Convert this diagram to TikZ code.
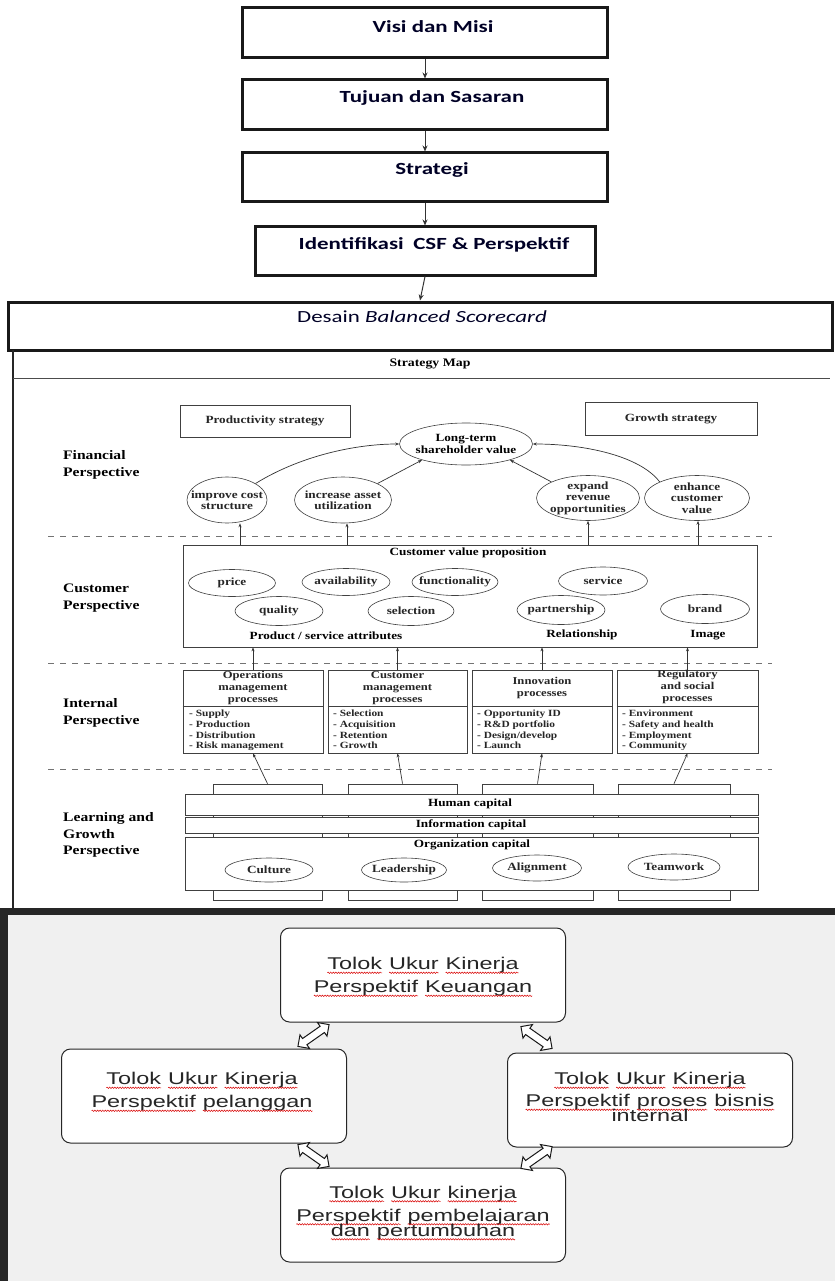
\documentclass[tikz,border=0pt]{standalone}
\usepackage{fontspec}
\setmainfont{Liberation Serif}
\newfontfamily\calbf[FakeStretch=1.35]{Carlito}
\newfontfamily\smf[FakeStretch=1.2]{Liberation Serif}
\newfontfamily\bsf[FakeStretch=1.38]{Liberation Sans}
\usetikzlibrary{calc,shapes.geometric,shapes.arrows,arrows.meta,decorations.pathmorphing}
\newcommand\sq[1]{\tikz[baseline=(w.base)]{\node[inner sep=0pt,outer sep=0pt] (w) {#1};\draw[red!85!black,line width=0.5pt,decorate,decoration={snake,amplitude=0.7pt,segment length=2.6pt}] ([yshift=-3.2pt]w.base west) -- ([yshift=-3.2pt]w.base east);}}
\begin{document}
\begin{tikzpicture}[x=1pt,y=-1pt,
  topbox/.style={draw=black!90,line width=3pt,minimum width=365pt},
  toptxt/.style={font=\calbf\bfseries\fontsize{17}{19}\selectfont,text=black!85!blue},
  topArr/.style={-{Stealth[length=6pt,width=5pt]},line width=1pt,black!80},
  sarr/.style={-{Stealth[length=4pt,width=3pt]},line width=0.7pt,black!80},
  sm/.style={font=\smf\bfseries\fontsize{11}{11.5}\selectfont,align=center,inner sep=0pt,text=black!85},
  smb/.style={font=\smf\bfseries\fontsize{11}{11.5}\selectfont,align=center,inner sep=0pt},
  lab/.style={font=\smf\bfseries\fontsize{13}{16.5}\selectfont,align=left,anchor=west,inner sep=0pt},
  item/.style={font=\smf\bfseries\fontsize{9.5}{10.7}\selectfont,align=left,anchor=north west,inner sep=0pt,text=black!85},
  ell/.style={ellipse,draw=black!75,line width=0.6pt,inner sep=0pt},
  sbox/.style={draw=black!75,line width=0.7pt,inner sep=0pt},
  dline/.style={draw=black!55,line width=0.8pt,dash pattern=on 6pt off 6pt},
  rbox/.style={draw=black!85,line width=1pt,fill=white,rounded corners=9pt,minimum width=285pt,minimum height=94pt},
  btxt/.style={font=\bsf\fontsize{17}{19}\selectfont,align=center,text=black!85,inner sep=0pt},
  darr/.style={double arrow,draw=black!90,fill=white,line width=1pt,minimum height=38pt,inner sep=3.3pt,double arrow head extend=4.5pt}
]
\useasboundingbox (0,0) rectangle (835,1281);
\fill[white] (0,0) rectangle (835,1281);

% ---------------- top flow ----------------
\node[topbox,minimum height=50pt] (b1) at (425,33) {};
\node[topbox,minimum height=50pt] (b2) at (425,105) {};
\node[topbox,minimum height=49pt] (b3) at (425,177.5) {};
\node[topbox,minimum width=340pt,minimum height=48pt] (b4) at (425,251) {};
\node[toptxt] (t1) at (433,27) {Visi dan Misi};
\node[toptxt] (t2) at (432,98) {Tujuan dan Sasaran};
\node[toptxt] (t3) at (432,170) {Strategi};
\node[toptxt] (t4) at (434,245) {Identifikasi\hspace{0.25em} CSF \& Perspektif};
\node[draw=black!90,line width=3pt,minimum width=824pt,minimum height=48pt] (ds) at (420,326) {};
\node[font=\calbf\fontsize{17}{19}\selectfont,text=black!85!blue] (dst) at (422,317) {Desain \textit{Balanced Scorecard}};
\draw[topArr] (b1.south) -- (b2.north);
\draw[topArr] (b2.south) -- (b3.north);
\draw[topArr] (b3.south) -- (b4.north);
\draw[topArr] (b4.south) -- (ds.north);

% ---------------- strategy map ----------------
\draw[black!85,line width=1.4pt] (13,350) -- (13,908);
\draw[black!70,line width=0.8pt] (13,378) -- (830,378);
\node[smb,font=\smf\bfseries\fontsize{11.5}{12}\selectfont] (smt) at (430,364) {Strategy Map};

% financial
\node[sbox,minimum width=170pt,minimum height=32pt] (prod) at (265,421) {};
\node[sm] (prodt) at (265,421) {Productivity strategy};
\node[sbox,minimum width=172pt,minimum height=33pt] (grow) at (671,418.5) {};
\node[sm] (growt) at (671,418.5) {Growth strategy};
\node[ell,minimum width=133pt,minimum height=42pt] (lt) at (466,444) {};
\node[smb] (ltt) at (466,444) {Long-term\\shareholder value};
\node[ell,minimum width=80pt,minimum height=46pt] (ic) at (227,500) {};
\node[sm] at (227,500) {improve cost\\structure};
\node[ell,minimum width=97pt,minimum height=46pt] (ia) at (343,500) {};
\node[sm] at (343,500) {increase asset\\utilization};
\node[ell,minimum width=103pt,minimum height=45pt] (er) at (588,498) {};
\node[sm] at (588,498) {expand\\revenue\\opportunities};
\node[ell,minimum width=105pt,minimum height=45pt] (ec) at (697,498) {};
\node[sm] at (697,498) {enhance\\customer\\value};
\node[lab] (lf) at (63,465) {Financial\\Perspective};
\draw[sarr] (ic.north east) .. controls (300,456) and (355,444) .. (lt.west);
\draw[sarr] (ia.north east) -- (lt.200);
\draw[sarr] (er.north west) -- (lt.-20);
\draw[sarr] (ec.north west) .. controls (640,456) and (585,444) .. (lt.east);

\draw[dline] (48,536) -- (772,536);

% customer
\node[sbox,minimum width=574pt,minimum height=102pt] (cust) at (470,596) {};
\node[smb] (cvp) at (468,553) {Customer value proposition};
\node[ell,minimum width=87pt,minimum height=27pt] (e1) at (232,583) {};
\node[sm] at (e1) {price};
\node[ell,minimum width=88pt,minimum height=27pt] (e2) at (346,582) {};
\node[sm] at (e2) {availability};
\node[ell,minimum width=86pt,minimum height=27pt] (e3) at (455,582) {};
\node[sm] at (e3) {functionality};
\node[ell,minimum width=89pt,minimum height=28pt] (e4) at (603,581) {};
\node[sm] at (e4) {service};
\node[ell,minimum width=88pt,minimum height=29pt] (e5) at (279,611) {};
\node[sm] at (e5) {quality};
\node[ell,minimum width=86pt,minimum height=29pt] (e6) at (411,611) {};
\node[sm] at (e6) {selection};
\node[ell,minimum width=88pt,minimum height=29pt] (e7) at (561,610) {};
\node[sm] at (e7) {partnership};
\node[ell,minimum width=89pt,minimum height=29pt] (e8) at (705,609) {};
\node[sm] at (e8) {brand};
\node[smb] (psa) at (326,636) {Product / service attributes};
\node[smb] (rel) at (582,635) {Relationship};
\node[smb] (img) at (708,635) {Image};
\node[lab] (lc) at (63,598) {Customer\\Perspective};
\draw[sarr] (cust.north -| 240,0) -- (ic.south -| 240,0);
\draw[sarr] (cust.north -| 347,0) -- (ia.south -| 347,0);
\draw[sarr] (cust.north -| 588,0) -- (er.south);
\draw[sarr] (cust.north -| 698,0) -- (ec.south -| 698,0);

\draw[dline] (48,663) -- (772,663);

% internal
\node[sbox,minimum width=140pt,minimum height=83pt] (ib1) at (253,711.5) {};
\node[sbox,minimum width=139pt,minimum height=83pt] (ib2) at (397.5,711.5) {};
\node[sbox,minimum width=140pt,minimum height=83pt] (ib3) at (542,711.5) {};
\node[sbox,minimum width=141pt,minimum height=83pt] (ib4) at (687.5,711.5) {};
\foreach \b in {ib1,ib2,ib3,ib4}{\draw[black!75,line width=0.7pt] (\b.west |- 0,706) -- (\b.east |- 0,706);}
\node[sm,font=\smf\bfseries\fontsize{10.5}{11.8}\selectfont] at (253,688) {Operations\\management\\processes};
\node[sm,font=\smf\bfseries\fontsize{10.5}{11.8}\selectfont] at (397.5,688) {Customer\\management\\processes};
\node[sm,font=\smf\bfseries\fontsize{10.5}{11.8}\selectfont] at (542,688) {Innovation\\processes};
\node[sm,font=\smf\bfseries\fontsize{10.5}{11.8}\selectfont] at (687.5,687) {Regulatory\\and social\\processes};
\node[item] at (189,710) {- Supply\\- Production\\- Distribution\\- Risk management};
\node[item] at (333,710) {- Selection\\- Acquisition\\- Retention\\- Growth};
\node[item] at (477,710) {- Opportunity ID\\- R\&D portfolio\\- Design/develop\\- Launch};
\node[item] at (622,710) {- Environment\\- Safety and health\\- Employment\\- Community};
\node[lab] (li) at (63,713) {Internal\\Perspective};
\foreach \b in {ib1,ib2,ib3,ib4}{\draw[sarr] (\b.north) -- (\b.north |- cust.south);}

\draw[dline] (48,769) -- (772,769);

% learning and growth
\node[sbox,minimum width=109pt,minimum height=116pt] (c1) at (267.5,842) {};
\node[sbox,minimum width=109pt,minimum height=116pt] (c2) at (402.5,842) {};
\node[sbox,minimum width=111pt,minimum height=116pt] (c3) at (537.5,842) {};
\node[sbox,minimum width=112pt,minimum height=116pt] (c4) at (674,842) {};
\node[sbox,fill=white,minimum width=573pt,minimum height=21pt] (hc) at (471.5,804.5) {};
\node[sbox,fill=white,minimum width=573pt,minimum height=16pt] (inf) at (471.5,825.5) {};
\node[sbox,fill=white,minimum width=573pt,minimum height=53pt] (org) at (471.5,863.5) {};
\node[smb] at (470,804) {Human capital};
\node[smb] at (471,825) {Information capital};
\node[smb] at (472,845) {Organization capital};
\node[ell,minimum width=88pt,minimum height=24pt] (g1) at (269,870) {};
\node[sm] at (g1) {Culture};
\node[ell,minimum width=85pt,minimum height=24pt] (g2) at (404,870) {};
\node[sm] at (g2) {Leadership};
\node[ell,minimum width=89pt,minimum height=26pt] (g3) at (537,868) {};
\node[sm] at (g3) {Alignment};
\node[ell,minimum width=92pt,minimum height=26pt] (g4) at (674,867) {};
\node[sm] at (g4) {Teamwork};
\node[lab] (ll) at (63,835) {Learning and\\Growth\\Perspective};
\draw[sarr] (c1.north) -- (ib1.south);
\draw[sarr] (c2.north) -- (ib2.south);
\draw[sarr] (c3.north) -- (ib3.south);
\draw[sarr] (c4.north) -- (ib4.south);

% ---------------- bottom panel ----------------
\fill[black!6] (0,908) rectangle (835,1281);
\fill[black!85] (0,908) rectangle (835,915);
\fill[black!85] (0,908) rectangle (8,1281);
\node[rbox] (kp) at (423,975) {};
\node[rbox] (pl) at (204,1096) {};
\node[rbox] (pb) at (650,1100) {};
\node[rbox] (pp) at (423,1215) {};
\node[btxt] at (423,977) {\sq{Tolok} \sq{Ukur} \sq{Kinerja}\\[4pt]\sq{Perspektif} \sq{Keuangan}};
\node[btxt] at (202,1092) {\sq{Tolok} \sq{Ukur} \sq{Kinerja}\\[4pt]\sq{Perspektif} \sq{pelanggan}};
\node[btxt] at (650,1097) {\sq{Tolok} \sq{Ukur} \sq{Kinerja}\\[3pt]\sq{Perspektif} \sq{proses} \sq{bisnis}\\[-4pt]internal};
\node[btxt] at (423,1213) {\sq{Tolok} \sq{Ukur} \sq{kinerja}\\[4pt]\sq{Perspektif} \sq{pembelajaran}\\[-4pt]\sq{dan} \sq{pertumbuhan}};
\node[darr,rotate=35] (a1) at ($(kp.south west)!0.5!(pl.north east)$) {};
\node[darr,rotate=-35] (a2) at ($(kp.south east)!0.5!(pb.north west)$) {};
\node[darr,rotate=-35] (a3) at ($(pl.south east)!0.5!(pp.north west)$) {};
\node[darr,rotate=35] (a4) at ($(pb.south west)!0.5!(pp.north east)$) {};
\end{tikzpicture}
\end{document}
